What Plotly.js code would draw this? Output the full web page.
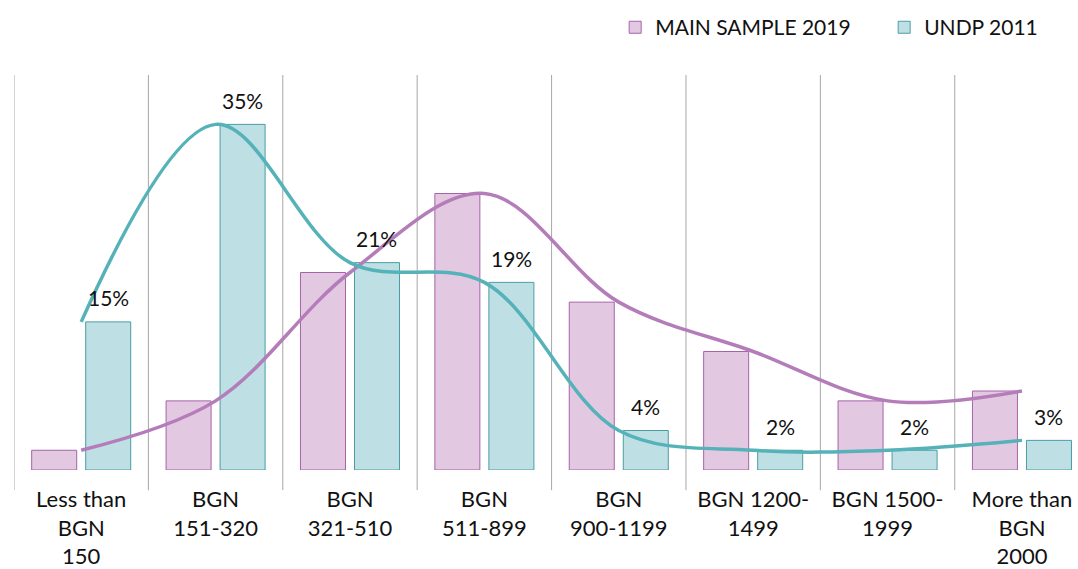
<!DOCTYPE html>
<html>
<head>
<meta charset="utf-8">
<script src="https://cdn.plot.ly/plotly-3.0.1.min.js"></script>
<style>html,body{margin:0;padding:0;background:#fff;}#chart{width:1078px;height:569px;}</style>
</head>
<body>
<div id="chart"></div>
<script>
var categories = ["Less than<br>BGN<br>150", "BGN<br>151-320", "BGN<br>321-510", "BGN<br>511-899", "BGN<br>900-1199", "BGN 1200-<br>1499", "BGN 1500-<br>1999", "More than<br>BGN<br>2000"];
var mainSample2019 = [2, 7, 20, 28, 17, 12, 7, 8];
var undp2011 = [15, 35, 21, 19, 4, 2, 2, 3];
var undpLabels = ["15%", "35%", "21%", "19%", "4%", "2%", "2%", "3%"];

var idx = categories.map(function (_, i) { return i; });
var FONT = "Lato, 'Open Sans', sans-serif";

var traces = [
  {type: 'bar', name: 'MAIN SAMPLE 2019', x: idx, y: mainSample2019,
   marker: {color: '#E3C8E1', line: {color: '#A663A9', width: 1}}, hoverinfo: 'skip'},
  {type: 'bar', name: 'UNDP 2011', x: idx, y: undp2011,
   marker: {color: '#BEDFE3', line: {color: '#4A9EA4', width: 1}}, hoverinfo: 'skip'},
  {type: 'scatter', mode: 'lines', x: idx, y: mainSample2019, showlegend: false,
   line: {color: '#B57CBA', width: 3.5, shape: 'spline', smoothing: 1}, hoverinfo: 'skip'},
  {type: 'scatter', mode: 'lines', x: idx, y: undp2011, showlegend: false,
   line: {color: '#55B2B8', width: 3.5, shape: 'spline', smoothing: 1}, hoverinfo: 'skip'}
];

var shapes = [];
for (var i = 0; i < categories.length; i++) {
  shapes.push({type: 'line', xref: 'x', yref: 'paper', x0: i - 0.5, x1: i - 0.5, y0: -0.051, y1: 1,
    line: {color: '#A6A6A6', width: 1}, layer: 'below'});
}

var annotations = undp2011.map(function (v, i) {
  return {x: i, y: v, xref: 'x', yref: 'y', text: undpLabels[i], showarrow: false,
    xshift: 27, yshift: 24, yanchor: 'middle', xanchor: 'center',
    font: {family: FONT, size: 21, color: '#111'}};
});

var layout = {
  width: 1078, height: 569,
  margin: {l: 14, r: 0, t: 75, b: 99, pad: 0, autoexpand: false},
  paper_bgcolor: '#fff', plot_bgcolor: '#fff',
  barmode: 'group', bargap: 0.196, bargroupgap: 0.167,
  font: {family: FONT, size: 21, color: '#111'},
  xaxis: {range: [-0.5, 7.417], tickmode: 'array', tickvals: idx, ticktext: categories,
    showgrid: false, zeroline: false, showline: false, ticks: '', fixedrange: true, automargin: false,
    ticklabelstandoff: 14,
    tickfont: {family: FONT, size: 22, color: '#111'}},
  yaxis: {range: [0, 40], visible: false, showgrid: false, zeroline: false, fixedrange: true},
  showlegend: true,
  legend: {orientation: 'h', x: 0.565, xanchor: 'left', y: 1.12, yanchor: 'middle',
    entrywidthmode: 'pixels', entrywidth: 224,
    font: {family: FONT, size: 21, color: '#111'}, bgcolor: 'rgba(0,0,0,0)', traceorder: 'normal'},
  shapes: shapes,
  annotations: annotations
};

Plotly.newPlot('chart', traces, layout, {displayModeBar: false, staticPlot: true});
</script>
</body>
</html>
